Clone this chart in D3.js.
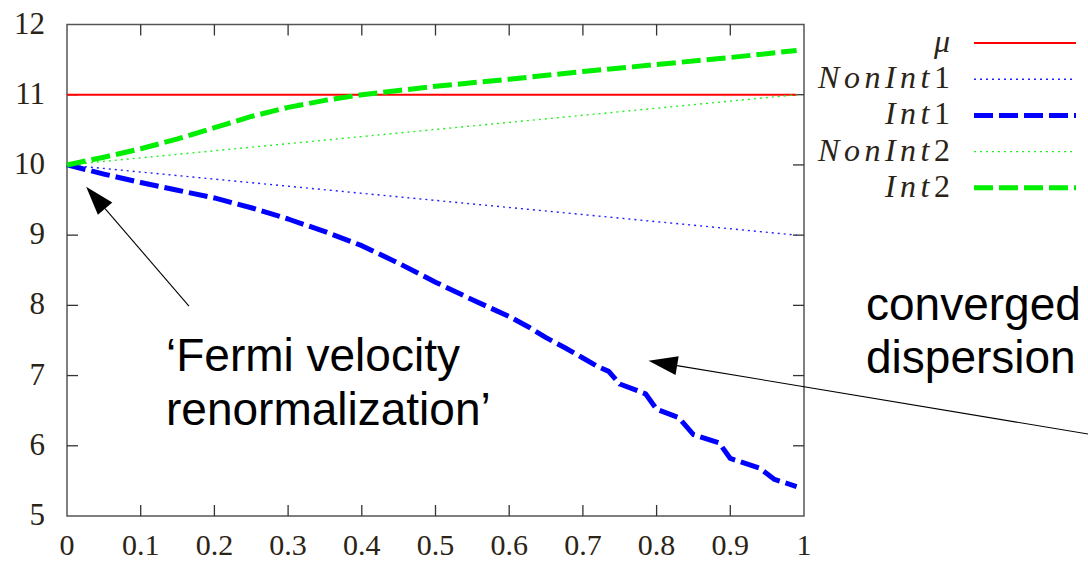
<!DOCTYPE html>
<html>
<head>
<meta charset="utf-8">
<script src="https://cdn.jsdelivr.net/npm/d3@7"></script>
<style>
  body { margin: 0; background: #fff; }
  svg { display: block; }
</style>
</head>
<body>
<svg id="chart" width="1088" height="561"></svg>
<script>
// series, [x, value]
var mu = [[0, 11], [0.99, 11]];
var nonInt1 = [[0, 10], [0.99, 9]];
var nonInt2 = [[0, 10], [0.99, 11]];
var int1 = [[0, 10], [0.05, 9.87], [0.1, 9.75], [0.15, 9.64], [0.2, 9.53], [0.25, 9.39],
	[0.3, 9.23], [0.35, 9.05], [0.4, 8.85], [0.45, 8.6], [0.5, 8.33], [0.55, 8.08],
	[0.6, 7.84], [0.625, 7.7], [0.65, 7.54], [0.675, 7.4], [0.7, 7.25], [0.72, 7.13],
	[0.735, 7.06], [0.75, 6.88], [0.785, 6.74], [0.8, 6.52], [0.83, 6.4], [0.85, 6.16],
	[0.885, 6.04], [0.9, 5.82], [0.94, 5.68], [0.96, 5.52], [0.99, 5.42]];
var int2 = [[0, 10], [0.05, 10.11], [0.1, 10.23], [0.15, 10.37], [0.2, 10.53], [0.25, 10.69],
	[0.3, 10.82], [0.35, 10.92], [0.4, 11.0], [0.45, 11.06], [0.5, 11.12], [0.6, 11.22],
	[0.7, 11.33], [0.8, 11.43], [0.9, 11.53], [0.99, 11.63]];

var xTicks = [0, 0.1, 0.2, 0.3, 0.4, 0.5, 0.6, 0.7, 0.8, 0.9, 1];
var yTicks = [5, 6, 7, 8, 9, 10, 11, 12];
var legendNames = [["μ", ""], ["NonInt", "1"], ["Int", "1"], ["NonInt", "2"], ["Int", "2"]];

var svg = d3.select("#chart");
var x = d3.scaleLinear().domain([0, 1]).range([67, 804]);
var y = d3.scaleLinear().domain([5, 12]).range([516, 24.5]);

var styles = [
	{data: mu, color: "#ff0000", width: 2, dash: null},
	{data: nonInt1, color: "#2020ff", width: 1.4, dash: "2,4"},
	{data: int1, color: "#0000ff", width: 5, dash: "19,6"},
	{data: nonInt2, color: "#20f020", width: 1.4, dash: "2,4"},
	{data: int2, color: "#00ee00", width: 5, dash: "19,6"}
];

var line = d3.line()
	.x(function(d) { return x(d[0]); })
	.y(function(d) { return y(d[1]); });

var serif = "'Liberation Serif', 'DejaVu Serif', serif";
var sans = "'Liberation Sans', Arial, sans-serif";
var labelColor = "#2b2416";

// frame with inward ticks on all sides
var frame = svg.append("g");
frame.append("rect")
	.attr("x", x(0)).attr("y", y(12))
	.attr("width", x(1) - x(0)).attr("height", y(5) - y(12))
	.attr("fill", "none").attr("stroke", "#555").attr("stroke-width", 1.5);

xTicks.forEach(function(t) {
	if (t > 0 && t < 1) {
		frame.append("line").attr("x1", x(t)).attr("x2", x(t))
			.attr("y1", y(5)).attr("y2", y(5) - 11).attr("stroke", "#333").attr("stroke-width", 1.3);
		frame.append("line").attr("x1", x(t)).attr("x2", x(t))
			.attr("y1", y(12)).attr("y2", y(12) + 11).attr("stroke", "#333").attr("stroke-width", 1.3);
	}
	svg.append("text")
		.attr("x", x(t)).attr("y", 555)
		.attr("text-anchor", "middle")
		.attr("font-family", serif).attr("font-size", 30)
		.attr("fill", labelColor)
		.text(t);
});

yTicks.forEach(function(t) {
	if (t > 5 && t < 12) {
		frame.append("line").attr("x1", x(0)).attr("x2", x(0) + 11)
			.attr("y1", y(t)).attr("y2", y(t)).attr("stroke", "#333").attr("stroke-width", 1.3);
		frame.append("line").attr("x1", x(1)).attr("x2", x(1) - 11)
			.attr("y1", y(t)).attr("y2", y(t)).attr("stroke", "#333").attr("stroke-width", 1.3);
	}
	svg.append("text")
		.attr("x", 45).attr("y", y(t) + 9)
		.attr("text-anchor", "end")
		.attr("font-family", serif).attr("font-size", 31)
		.attr("fill", labelColor)
		.text(t);
});

// series
styles.forEach(function(s) {
	svg.append("path")
		.datum(s.data)
		.attr("d", line)
		.attr("fill", "none")
		.attr("stroke", s.color)
		.attr("stroke-width", s.width)
		.attr("stroke-dasharray", s.dash)
		.attr("stroke-linejoin", "round");
});

// legend
var legend = svg.append("g");
styles.forEach(function(s, i) {
	var ly = 43 + i * 36.2;
	var t = legend.append("text")
		.attr("x", 950).attr("y", ly + 9)
		.attr("text-anchor", "end")
		.attr("font-family", serif).attr("font-size", 32)
		.attr("fill", labelColor);
	t.append("tspan").attr("font-style", "italic").attr("letter-spacing", i == 0 ? 0 : 4.5).text(legendNames[i][0]);
	if (legendNames[i][1]) t.append("tspan").text(legendNames[i][1]);
	legend.append("line")
		.attr("x1", 974).attr("x2", 1076)
		.attr("y1", ly).attr("y2", ly)
		.attr("stroke", s.color)
		.attr("stroke-width", s.width)
		.attr("stroke-dasharray", s.dash);
});

// annotations
var arrows = [
	{from: [0.1655, 7.99], to: [0.026, 9.69]},
	{from: [1.39, 6.16], to: [0.789, 7.21]}
];
arrows.forEach(function(a) {
	var x1 = x(a.from[0]), y1 = y(a.from[1]), x2 = x(a.to[0]), y2 = y(a.to[1]);
	var ang = Math.atan2(y2 - y1, x2 - x1);
	var len = 29, half = 9.5;
	var bx = x2 - len * Math.cos(ang), by = y2 - len * Math.sin(ang);
	svg.append("line")
		.attr("x1", x1).attr("y1", y1).attr("x2", bx).attr("y2", by)
		.attr("stroke", "#000").attr("stroke-width", 1.1);
	var pts = [
		[x2, y2],
		[bx + half * Math.sin(ang), by - half * Math.cos(ang)],
		[bx - half * Math.sin(ang), by + half * Math.cos(ang)]
	];
	svg.append("polygon")
		.attr("points", pts.map(function(p) { return p.join(","); }).join(" "))
		.attr("fill", "#000");
});

var notes = [
	{x: 166, y: 371, text: "‘Fermi velocity"},
	{x: 166, y: 425, text: "renormalization’"},
	{x: 866, y: 320, text: "converged"},
	{x: 866, y: 373, text: "dispersion"}
];
notes.forEach(function(n) {
	svg.append("text")
		.attr("x", n.x).attr("y", n.y)
		.attr("font-family", sans).attr("font-size", 46)
		.attr("fill", "#000")
		.text(n.text);
});
</script>
</body>
</html>
